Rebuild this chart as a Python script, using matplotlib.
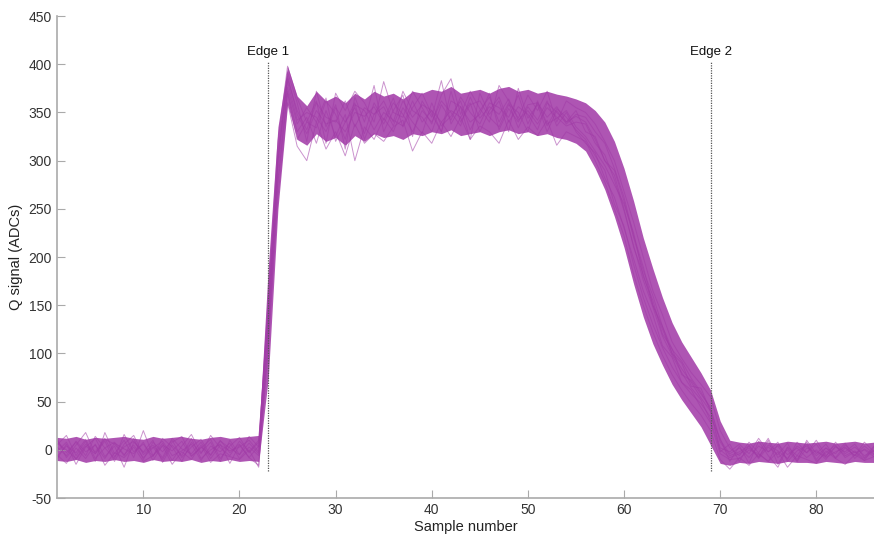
import numpy as np
import matplotlib
matplotlib.use("Agg")
import matplotlib.pyplot as plt

plt.rcParams['font.family'] = ['Liberation Sans', 'DejaVu Sans']
plt.rcParams['axes.unicode_minus'] = False

# Sample index 1..86
samples = np.arange(1, 87)

# Dense core of the bundle (lower / upper edge)
band_low = [-11, -12, -10, -13, -11, -12, -10, -12, -11, -13, -10, -12, -11, -12, -10, -13, -11, -12, -10, -12, -11, -12,
            75, 250, 358,
            322, 316, 328, 320, 324, 316, 326, 320, 328, 324, 326, 322, 328, 326, 330,
            328, 332, 326, 328, 330, 326, 330, 332, 328, 330, 326, 328, 324, 322, 318,
            310, 292, 270, 242, 210, 172, 138, 110, 88, 68, 52, 38, 24, 5, -14, -16,
            -13, -14, -12, -13, -14, -12, -13, -13, -14, -12, -13, -14, -12, -13, -13]
band_high = [13, 12, 14, 11, 13, 12, 13, 14, 12, 11, 14, 12, 13, 14, 12, 11, 13, 14, 12, 13, 14, 15,
             190, 335, 398,
             367, 357, 372, 362, 367, 360, 370, 364, 372, 367, 370, 364, 372, 370, 374,
             372, 377, 370, 372, 374, 370, 375, 377, 372, 374, 370, 372, 369, 367, 364,
             360, 352, 340, 320, 292, 258, 220, 188, 158, 132, 112, 96, 80, 62, 30, 10,
             8, 7, 9, 8, 7, 9, 8, 7, 8, 9, 7, 8, 9, 7, 8]

# Individual traces (outliers visible around the core)
trace_a = [12, -8, 5, 18, -4, 9, -12, 6, 15, -5, 3, -10, 8, 14, -6, 2, 11, -9, 4, 13, -3, 8,
           150, 310, 392,
           360, 320, 372, 335, 358, 312, 366, 340, 378, 330, 352, 368, 325, 362, 345,
           383, 338, 356, 322, 370, 348, 362, 330, 375, 344, 358, 330, 352, 338, 348,
           345, 330, 318, 292, 262, 222, 190, 150, 128, 100, 90, 66, 64, 40, -2, 6,
           -12, 5, -8, 10, -15, 3, -6, 8, -10, 2, -4, 7, -9, 1, -5]
trace_b = [-10, 6, -15, 3, 12, -7, 4, -18, 8, -2, 10, -13, 5, -6, 12, -9, 0, 6, -14, 5, -8, -16,
           120, 280, 372,
           330, 345, 318, 352, 325, 348, 300, 335, 322, 344, 330, 355, 340, 328, 360,
           336, 346, 362, 332, 352, 366, 340, 360, 334, 356, 342, 362, 336, 350, 330,
           318, 308, 282, 262, 230, 198, 165, 140, 108, 96, 70, 58, 48, 34, 12, -12,
           4, -14, 9, -6, -18, 2, -10, 6, -12, -3, 5, -8, -2, -11, 3]
trace_c = [5, 15, -6, 9, -12, 18, -4, 10, -8, 20, -6, 7, -11, 4, 16, -3, 8, -12, 10, -5, 14, 3,
           160, 320, 398,
           365, 340, 362, 318, 370, 352, 372, 360, 340, 382, 350, 345, 372, 355, 338,
           368, 385, 348, 372, 354, 340, 378, 362, 344, 368, 352, 372, 340, 362, 355,
           350, 338, 320, 300, 268, 236, 200, 165, 140, 112, 95, 80, 68, 55, 20, 2,
           -6, 8, -3, 12, -8, 0, -12, 10, -4, 6, -9, 2, -6, 8, -2]
trace_d = [-5, -14, 2, -9, 6, -16, -3, -8, 3, -12, -6, 4, -15, -2, -10, 5, -13, -4, -7, -10, 0, -18,
           105, 262, 360,
           315, 300, 340, 312, 330, 305, 338, 318, 328, 320, 335, 342, 310, 330, 318,
           340, 325, 345, 322, 336, 330, 318, 342, 322, 335, 326, 342, 316, 330, 325,
           320, 300, 278, 250, 222, 182, 150, 122, 98, 78, 62, 48, 36, 20, -10, -20,
           -8, -16, -4, -12, -2, -18, -6, -10, -14, -1, -9, -15, -5, -11, -7]
trace_e = [10, -3, 8, -6, 14, 2, -9, 16, -2, 6, -7, 12, 3, -12, 8, -4, 15, 2, -6, 9, -2, 10,
           140, 300, 385,
           352, 332, 360, 345, 340, 362, 335, 355, 348, 362, 340, 372, 352, 345, 330,
           358, 342, 366, 350, 338, 360, 355, 345, 368, 338, 360, 345, 356, 340, 352,
           330, 325, 300, 285, 250, 210, 182, 150, 125, 100, 84, 70, 54, 40, 2, -2,
           6, -4, 12, -2, 4, -10, 8, -3, 10, -6, 3, -2, 6, -8, 4]
trace_f = [-2, 8, -10, 4, -4, 11, 6, -6, 12, -10, 8, -2, 10, -8, 3, 11, -6, 9, 2, -5, 7, -4,
           128, 290, 376,
           338, 355, 340, 365, 320, 340, 355, 328, 360, 342, 365, 335, 355, 370, 348,
           330, 372, 340, 358, 362, 345, 335, 358, 350, 330, 362, 338, 344, 352, 335,
           325, 310, 295, 275, 255, 225, 180, 155, 120, 105, 78, 72, 58, 44, 8, -6,
           -2, 4, -9, 3, -5, 7, -12, 2, -2, -7, 8, -4, 3, -6, -1]
trace_g = [3, -6, 9, -2, 5, -9, 7, 1, -4, 8, -11, 5, -1, 9, -7, 3, -5, 10, -3, 6, -8, 4,
           132, 298, 388,
           348, 328, 352, 338, 342, 330, 350, 346, 356, 338, 360, 348, 330, 352, 340,
           362, 350, 336, 366, 344, 356, 348, 364, 342, 352, 338, 355, 345, 336, 340,
           338, 318, 306, 280, 248, 212, 176, 148, 118, 98, 80, 64, 52, 30, 0, -8,
           -4, 2, -7, 5, -1, -9, 4, -3, 6, -8, -2, 3, -6, 4, -4]
trace_h = [-7, 4, -3, 11, -9, 2, 8, -5, 5, -8, 2, 9, -6, -1, 6, -11, 4, -2, 7, -9, 3, -6,
           112, 275, 370,
           322, 340, 334, 362, 348, 322, 358, 352, 332, 350, 342, 336, 362, 340, 352,
           330, 362, 356, 340, 348, 370, 332, 354, 340, 358, 360, 336, 354, 345, 332,
           322, 305, 290, 255, 232, 192, 158, 130, 106, 86, 70, 62, 44, 28, -4, -10,
           -9, 0, -4, -12, 6, -5, 2, -8, 0, -10, 4, -6, -1, -9, 0]
trace_i = [7, 0, -9, 6, -2, 12, -7, 3, 9, -3, 5, -8, 12, 1, -4, 8, -9, 5, -1, 3, 10, -2,
           145, 305, 382,
           342, 350, 345, 330, 355, 340, 360, 322, 348, 356, 336, 362, 345, 358, 352,
           340, 352, 345, 360, 330, 352, 366, 340, 356, 348, 332, 360, 350, 340, 346,
           340, 322, 300, 290, 258, 220, 186, 160, 128, 104, 92, 74, 60, 42, 10, -4,
           2, -8, 4, -2, 8, -12, -1, 4, -6, 2, -8, 5, -3, 0, -7]
traces = [trace_a, trace_b, trace_c, trace_d, trace_e, trace_f, trace_g, trace_h, trace_i]

edge_pos = [23, 69]
edge_names = ['Edge 1', 'Edge 2']

fig = plt.figure(figsize=(8.74, 5.35), dpi=100)
ax = fig.add_axes([0.065, 0.069, 0.935, 0.901])

purple = '#9a2aa0'
ax.fill_between(samples, band_low, band_high, color=purple, alpha=0.8, lw=0)
for tr in traces:
    ax.plot(samples, tr, color='#a03aa6', lw=0.7, alpha=0.55)

for xpos, name in zip(edge_pos, edge_names):
    ax.vlines(xpos, -22, 403, colors='#555555', linestyles=(0, (1, 1)), lw=0.9)
    ax.text(xpos, 406, name, ha='center', va='bottom', fontsize=9.5, color='#111111')

ax.set_xlim(1, 86)
ax.set_ylim(-50, 450)
ax.set_xticks([10, 20, 30, 40, 50, 60, 70, 80])
ax.set_yticks(np.arange(-50, 451, 50))
ax.set_xlabel('Sample number', fontsize=10.5, color='#222222', labelpad=2)
ax.set_ylabel('Q signal (ADCs)', fontsize=10.5, color='#222222', labelpad=4)

for s in ['top', 'right']:
    ax.spines[s].set_visible(False)
for s in ['left', 'bottom']:
    ax.spines[s].set_color('#aaaaaa')
    ax.spines[s].set_linewidth(1.2)
ax.tick_params(direction='in', length=6, color='#aaaaaa', labelcolor='#333333', labelsize=10)

fig.savefig('out.png', dpi=100)
